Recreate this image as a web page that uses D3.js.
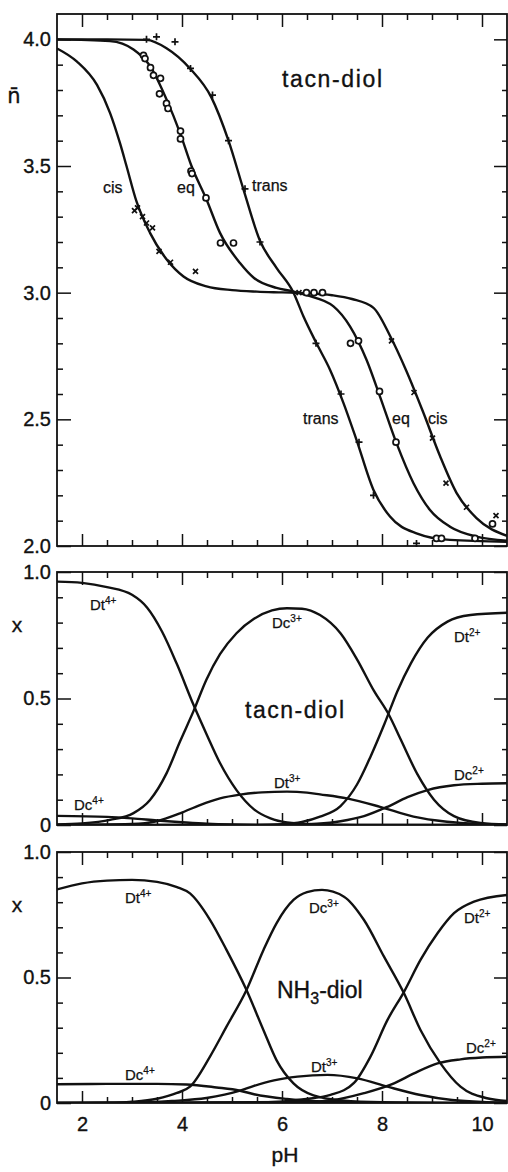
<!DOCTYPE html>
<html><head><meta charset="utf-8">
<script src="https://cdn.jsdelivr.net/npm/d3@7/dist/d3.min.js"></script>
<style>
html,body{margin:0;padding:0;background:#fff;}
svg{display:block;}
text{font-family:"Liberation Sans",Arial,sans-serif;fill:#111;stroke:#111;stroke-width:0.35px;}
</style></head><body>
<svg id="chart" width="508" height="1172"></svg>
<script>
// ---------- tick values ----------
const pHMajorTicks = [2, 4, 6, 8, 10];
const pHMinorTicks = [2.5, 3, 3.5, 4.5, 5, 5.5, 6.5, 7, 7.5, 8.5, 9, 9.5];
const nbarMajorTicks = [2.0, 2.5, 3.0, 3.5, 4.0];
const nbarMinorTicks = [2.1, 2.2, 2.3, 2.4, 2.6, 2.7, 2.8, 2.9, 3.1, 3.2, 3.3, 3.4, 3.6, 3.7, 3.8, 3.9];
const fracMajorTicks = [0, 0.5, 1.0];
const fracMinorTicks = [0.1, 0.2, 0.3, 0.4, 0.6, 0.7, 0.8, 0.9];

// ---------- top panel: n-bar vs pH (tacn-diol) ----------
const cisCurve = [[1.5,3.964],[1.9,3.912],[2.3,3.82],[2.56,3.71],[2.76,3.59],[2.89,3.50],[3.09,3.36],[3.36,3.236],[3.69,3.132],[4.03,3.064],[4.49,3.025],[5.0,3.01],[5.5,3.004],[6.0,3.001],[6.5,2.998],[7.0,2.99],[7.4,2.975],[7.83,2.94],[8.16,2.83],[8.49,2.69],[8.83,2.525],[9.16,2.355],[9.49,2.21],[9.89,2.11],[10.5,2.04]];
const eqCurve = [[1.5,4.0],[2.56,3.993],[3.03,3.96],[3.36,3.895],[3.69,3.763],[3.96,3.631],[4.19,3.50],[4.49,3.368],[4.76,3.236],[5.16,3.117],[5.44,3.058],[5.89,3.019],[6.22,3.005],[6.49,2.99],[7.03,2.946],[7.36,2.867],[7.69,2.735],[7.96,2.59],[8.29,2.406],[8.63,2.248],[8.96,2.142],[9.36,2.076],[9.89,2.037],[10.5,2.021]];
const transCurve = [[1.5,4.0],[2.5,4.0],[3.29,3.998],[3.69,3.965],[4.16,3.885],[4.59,3.77],[4.93,3.60],[5.23,3.407],[5.56,3.205],[5.89,3.098],[6.23,3.0],[6.43,2.906],[6.69,2.80],[6.96,2.696],[7.23,2.564],[7.49,2.419],[7.83,2.221],[8.16,2.116],[8.69,2.05],[9.36,2.024],[10.5,2.017]];

const cisPoints = [[3.05,3.324],[3.11,3.335],[3.21,3.30],[3.29,3.275],[3.41,3.256],[3.54,3.163],[3.77,3.12],[4.27,3.084],[6.34,3.0],[8.19,2.81],[8.64,2.606],[9.01,2.426],[9.28,2.248],[9.69,2.153],[10.28,2.12]];
const eqPoints = [[3.23,3.937],[3.26,3.924],[3.37,3.888],[3.43,3.858],[3.57,3.846],[3.55,3.785],[3.69,3.747],[3.72,3.727],[3.97,3.638],[3.97,3.607],[4.18,3.48],[4.2,3.47],[4.48,3.374],[4.77,3.196],[5.03,3.196],[6.49,3.0],[6.64,3.0],[6.81,3.0],[7.37,2.80],[7.53,2.81],[7.95,2.61],[8.28,2.41],[9.09,2.03],[9.19,2.03],[9.86,2.03],[10.21,2.087]];
const transPoints = [[3.29,4.0],[3.49,4.01],[3.86,3.99],[4.17,3.885],[4.61,3.78],[4.93,3.60],[5.26,3.41],[5.56,3.20],[6.68,2.80],[7.18,2.60],[7.54,2.41],[7.83,2.20],[8.69,2.01]];

const topCurveLabels = [["cis",2.42,3.395],["eq",3.9,3.395],["trans",5.4,3.403],["trans",6.42,2.482],["eq",8.2,2.482],["cis",8.92,2.482]];

// ---------- middle panel: species fractions, tacn-diol ----------
const tacnDt4 = [[1.5,0.962],[2.0,0.957],[2.5,0.94],[3.0,0.91],[3.3,0.86],[3.6,0.765],[3.9,0.635],[4.23,0.475],[4.5,0.355],[4.76,0.245],[5.09,0.138],[5.44,0.062],[5.77,0.026],[6.1,0.01],[6.6,0.003],[7.5,0.0],[10.5,0.0]];
const tacnDc4 = [[1.5,0.036],[2.5,0.032],[3.0,0.026],[3.5,0.018],[4.0,0.011],[4.5,0.005],[5.0,0.002],[6.0,0.0],[10.5,0.0]];
const tacnDc3 = [[1.5,0.002],[2.0,0.006],[2.56,0.02],[3.03,0.047],[3.36,0.099],[3.69,0.204],[3.96,0.33],[4.23,0.45],[4.49,0.575],[4.76,0.675],[5.09,0.758],[5.44,0.815],[5.8,0.848],[6.1,0.857],[6.4,0.855],[6.76,0.83],[7.17,0.758],[7.5,0.655],[7.84,0.53],[8.14,0.435],[8.37,0.34],[8.71,0.2],[9.04,0.1],[9.44,0.035],[9.97,0.008],[10.5,0.002]];
const tacnDt3 = [[1.5,0.0],[3.0,0.004],[3.49,0.015],[3.96,0.046],[4.36,0.079],[4.76,0.105],[5.16,0.12],[5.6,0.129],[6.1,0.132],[6.5,0.128],[6.76,0.121],[7.3,0.105],[7.96,0.072],[8.63,0.033],[9.3,0.013],[10.0,0.004],[10.5,0.001]];
const tacnDt2 = [[1.5,0.0],[5.5,0.0],[6.0,0.003],[6.4,0.012],[6.76,0.033],[7.17,0.075],[7.5,0.16],[7.77,0.27],[8.05,0.4],[8.31,0.53],[8.58,0.64],[8.91,0.74],[9.31,0.804],[9.77,0.83],[10.5,0.839]];
const tacnDc2 = [[1.5,0.0],[6.0,0.0],[6.7,0.005],[7.17,0.015],[7.64,0.035],[8.11,0.072],[8.51,0.11],[8.91,0.138],[9.44,0.157],[10.0,0.163],[10.5,0.165]];
const tacnSpeciesLabels = [["Dt","4+",2.16,0.85],["Dc","4+",1.84,0.059],["Dc","3+",5.8,0.779],["Dt","2+",9.44,0.723],["Dt","3+",5.84,0.146],["Dc","2+",9.44,0.178]];

// ---------- bottom panel: species fractions, NH3-diol ----------
const nh3Dt4 = [[1.5,0.851],[2.0,0.875],[2.5,0.886],[3.0,0.889],[3.5,0.881],[3.9,0.86],[4.16,0.835],[4.56,0.73],[4.89,0.61],[5.29,0.45],[5.63,0.29],[5.89,0.171],[6.23,0.078],[6.63,0.03],[7.2,0.01],[8.0,0.003],[10.5,0.0]];
const nh3Dc4 = [[1.5,0.075],[2.5,0.076],[3.5,0.076],[4.09,0.074],[4.69,0.062],[5.16,0.049],[5.44,0.035],[6.1,0.016],[6.8,0.006],[7.5,0.002],[8.5,0.0],[10.5,0.0]];
const nh3Dc3 = [[1.5,0.0],[2.5,0.001],[3.0,0.005],[3.5,0.017],[3.9,0.04],[4.16,0.065],[4.56,0.185],[4.89,0.304],[5.29,0.45],[5.63,0.61],[5.89,0.716],[6.23,0.809],[6.5,0.84],[6.8,0.849],[7.24,0.822],[7.64,0.729],[8.04,0.583],[8.44,0.437],[8.77,0.291],[9.17,0.158],[9.57,0.065],[10.1,0.019],[10.5,0.008]];
const nh3Dt3 = [[1.5,0.0],[3.0,0.001],[3.8,0.008],[4.49,0.02],[5.16,0.049],[5.44,0.068],[5.84,0.09],[6.31,0.105],[6.91,0.112],[7.51,0.098],[8.11,0.065],[8.77,0.032],[9.4,0.012],[10.0,0.004],[10.5,0.002]];
const nh3Dt2 = [[1.5,0.0],[5.5,0.002],[6.44,0.015],[6.97,0.032],[7.44,0.08],[7.77,0.185],[8.11,0.331],[8.44,0.443],[8.77,0.57],[9.11,0.676],[9.44,0.756],[9.84,0.802],[10.5,0.829]];
const nh3Dc2 = [[1.5,0.0],[6.5,0.004],[6.97,0.01],[7.64,0.039],[8.24,0.078],[8.64,0.118],[9.11,0.158],[9.57,0.174],[10.0,0.181],[10.5,0.184]];
const nh3SpeciesLabels = [["Dt","4+",2.86,0.797],["Dc","4+",2.86,0.092],["Dc","3+",6.54,0.757],["Dt","2+",9.64,0.717],["Dt","3+",6.58,0.124],["Dc","2+",9.68,0.199]];

// ---------- drawing ----------
const svg = d3.select("#chart");
const INK = "#111";
const xLeft = 57, xRight = 507;
const x = d3.scaleLinear().domain([1.5, 10.5]).range([xLeft, xRight]);

const yTop = d3.scaleLinear().domain([2, 4.1]).range([546, 14]);
const yMid = d3.scaleLinear().domain([0, 1]).range([825, 572]);
const yBot = d3.scaleLinear().domain([0, 1]).range([1103, 852]);

const fmtN = d => d.toFixed(1);
const fmtF = d => d === 0 ? "0" : d.toFixed(1);

function styleAxis(sel) {
  sel.select(".domain").remove();
  sel.selectAll(".tick line").attr("stroke", INK).attr("stroke-width", 1.5);
  sel.selectAll(".tick text").attr("fill", INK)
     .style("font-family", '"Liberation Sans", Arial, sans-serif')
     .style("font-size", "20px");
}

function drawFrame(y, yTopPx, yBotPx, majors, minors, fmt, showXLabels) {
  const g = svg.append("g");
  const aL = g.append("g").attr("transform", `translate(${xLeft},0)`)
    .call(d3.axisLeft(y).tickValues(majors).tickSizeInner(-14).tickSizeOuter(0).tickPadding(6).tickFormat(fmt));
  styleAxis(aL);
  const aL2 = g.append("g").attr("transform", `translate(${xLeft},0)`)
    .call(d3.axisLeft(y).tickValues(minors).tickSizeInner(-6).tickSizeOuter(0).tickFormat(""));
  styleAxis(aL2);
  const aR = g.append("g").attr("transform", `translate(${xRight},0)`)
    .call(d3.axisRight(y).tickValues(majors).tickSizeInner(-13).tickSizeOuter(0).tickFormat(""));
  styleAxis(aR);
  const aR2 = g.append("g").attr("transform", `translate(${xRight},0)`)
    .call(d3.axisRight(y).tickValues(minors).tickSizeInner(-5).tickSizeOuter(0).tickFormat(""));
  styleAxis(aR2);
  const aB = g.append("g").attr("transform", `translate(0,${yBotPx})`)
    .call(d3.axisBottom(x).tickValues(pHMajorTicks).tickSizeInner(-12).tickSizeOuter(0).tickPadding(8)
      .tickFormat(showXLabels ? d3.format("d") : ""));
  styleAxis(aB);
  if (showXLabels) aB.selectAll(".tick text").attr("y", 14).attr("dy", "0.71em");
  const aB2 = g.append("g").attr("transform", `translate(0,${yBotPx})`)
    .call(d3.axisBottom(x).tickValues(pHMinorTicks).tickSizeInner(-6).tickSizeOuter(0).tickFormat(""));
  styleAxis(aB2);
  const aT = g.append("g").attr("transform", `translate(0,${yTopPx})`)
    .call(d3.axisTop(x).tickValues(pHMajorTicks).tickSizeInner(-13).tickSizeOuter(0).tickFormat(""));
  styleAxis(aT);
  const aT2 = g.append("g").attr("transform", `translate(0,${yTopPx})`)
    .call(d3.axisTop(x).tickValues(pHMinorTicks).tickSizeInner(-6).tickSizeOuter(0).tickFormat(""));
  styleAxis(aT2);
  g.append("rect").attr("x", xLeft).attr("y", yTopPx)
    .attr("width", xRight - xLeft).attr("height", yBotPx - yTopPx)
    .attr("fill", "none").attr("stroke", INK).attr("stroke-width", 1.8);
  return g;
}

function drawCurves(y, curves, clipId, yTopPx, yBotPx) {
  svg.append("clipPath").attr("id", clipId).append("rect")
    .attr("x", xLeft).attr("y", yTopPx).attr("width", xRight - xLeft).attr("height", yBotPx - yTopPx);
  const line = d3.line().x(d => x(d[0])).y(d => y(d[1])).curve(d3.curveMonotoneX);
  svg.append("g").attr("clip-path", `url(#${clipId})`)
    .selectAll("path").data(curves).join("path")
    .attr("d", line).attr("fill", "none").attr("stroke", INK)
    .attr("stroke-width", 2.4).attr("stroke-linejoin", "round");
}

function speciesLabels(y, labels) {
  const t = svg.append("g").selectAll("text").data(labels).join("text")
    .attr("x", d => x(d[2])).attr("y", d => y(d[3]))
    .style("font-size", "15px").style("stroke-width", "0.25px");
  t.append("tspan").text(d => d[0]);
  t.append("tspan").text(d => d[1]).attr("dy", -6).style("font-size", "10px");
}

// ---- top panel ----
drawFrame(yTop, 14, 546, nbarMajorTicks, nbarMinorTicks, fmtN, false);
drawCurves(yTop, [cisCurve, eqCurve, transCurve], "clipTop", 14, 546);

const mk = svg.append("g").attr("stroke", INK).attr("stroke-width", 1.7).attr("fill", "none");
mk.selectAll("path.plus").data(transPoints).join("path").attr("class", "plus")
  .attr("d", d => { const px = x(d[0]), py = yTop(d[1]); return `M${px-3.5},${py}H${px+3.5}M${px},${py-3.5}V${py+3.5}`; });
mk.selectAll("circle").data(eqPoints).join("circle")
  .attr("cx", d => x(d[0])).attr("cy", d => yTop(d[1])).attr("r", 3).attr("fill", "#fff");
mk.selectAll("path.cross").data(cisPoints).join("path").attr("class", "cross")
  .attr("d", d => { const px = x(d[0]), py = yTop(d[1]); return `M${px-2.5},${py-2.5}L${px+2.5},${py+2.5}M${px-2.5},${py+2.5}L${px+2.5},${py-2.5}`; });

svg.append("g").selectAll("text").data(topCurveLabels).join("text")
  .attr("x", d => x(d[1])).attr("y", d => yTop(d[2]))
  .style("font-size", "16px").style("stroke-width", "0.25px").text(d => d[0]);

svg.append("text").attr("x", x(6.0)).attr("y", yTop(3.81))
  .attr("textLength", 100).attr("lengthAdjust", "spacing")
  .style("font-size", "23px").text("tacn-diol");

svg.append("text").attr("x", 14).attr("y", 103).attr("text-anchor", "middle")
  .style("font-family", '"DejaVu Sans", sans-serif')
  .style("font-size", "21px").text("n\u0304");

// ---- middle panel ----
drawFrame(yMid, 572, 825, fracMajorTicks, fracMinorTicks, fmtF, false);
drawCurves(yMid, [tacnDt4, tacnDc4, tacnDc3, tacnDt3, tacnDt2, tacnDc2], "clipMid", 572, 825);
speciesLabels(yMid, tacnSpeciesLabels);
svg.append("text").attr("x", x(5.26)).attr("y", yMid(0.423))
  .attr("textLength", 99).attr("lengthAdjust", "spacing")
  .style("font-size", "23px").text("tacn-diol");
svg.append("text").attr("x", 17).attr("y", 632).attr("text-anchor", "middle")
  .style("font-size", "21px").text("x");

// ---- bottom panel ----
drawFrame(yBot, 852, 1103, fracMajorTicks, fracMinorTicks, fmtF, true);
drawCurves(yBot, [nh3Dt4, nh3Dc4, nh3Dc3, nh3Dt3, nh3Dt2, nh3Dc2], "clipBot", 852, 1103);
speciesLabels(yBot, nh3SpeciesLabels);
const nh3 = svg.append("text").attr("x", x(5.9)).attr("y", yBot(0.418)).style("font-size", "23px");
nh3.append("tspan").text("NH");
nh3.append("tspan").text("3").attr("dy", 6).style("font-size", "16px");
nh3.append("tspan").text("-diol").attr("dy", -6);
svg.append("text").attr("x", 17).attr("y", 912).attr("text-anchor", "middle")
  .style("font-size", "21px").text("x");

svg.append("text").attr("x", 285).attr("y", 1162).attr("text-anchor", "middle")
  .style("font-size", "21px").text("pH");
</script>
</body></html>
